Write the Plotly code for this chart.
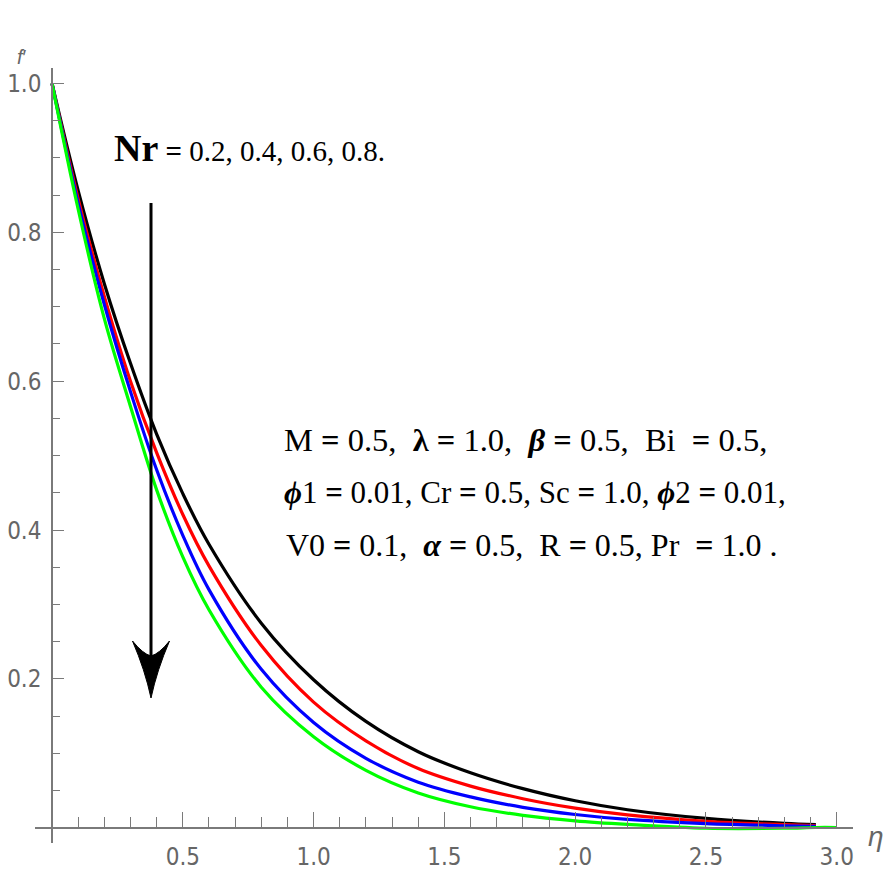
import plotly.graph_objects as go

# ---------------- data ----------------
eta = [0, 0.1, 0.2, 0.3, 0.4, 0.5, 0.6, 0.8, 1.0, 1.2, 1.4, 1.6, 1.8, 2.0, 2.2, 2.5, 2.8, 2.92, 3.0]
f_nr02 = [1.0, 0.856, 0.731, 0.624, 0.529, 0.449, 0.381, 0.275, 0.199, 0.143, 0.1023, 0.0740, 0.0527, 0.0364, 0.0244, 0.0128, 0.0060, 0.0043, None]
f_nr04 = [1.0, 0.845, 0.714, 0.600, 0.504, 0.421, 0.352, 0.245, 0.169, 0.117, 0.0797, 0.0561, 0.0392, 0.0265, 0.0174, 0.0089, 0.0043, 0.0031, None]
f_nr06 = [1.0, 0.839, 0.703, 0.586, 0.481, 0.393, 0.320, 0.213, 0.1416, 0.0935, 0.0614, 0.0416, 0.0276, 0.0180, 0.0114, 0.0058, 0.0029, 0.0021, None]
f_nr08 = [1.0, 0.831, 0.684, 0.566, 0.454, 0.364, 0.293, 0.189, 0.1225, 0.0773, 0.0469, 0.0284, 0.0169, 0.0095, 0.0047, -0.0005, -0.0005, 0.0005, 0.0005]

series_names = ["Nr = 0.2", "Nr = 0.4", "Nr = 0.6", "Nr = 0.8"]
series_colors = ["#000000", "#ff0000", "#0000ff", "#00ff00"]

x_ticks = [0.5, 1.0, 1.5, 2.0, 2.5, 3.0]
x_tick_text = ["0.5", "1.0", "1.5", "2.0", "2.5", "3.0"]
y_ticks = [0.2, 0.4, 0.6, 0.8, 1.0]
y_tick_text = ["0.2", "0.4", "0.6", "0.8", "1.0"]

# ---------------- layout constants ----------------
W, H = 889, 884
X_RANGE = [-0.065, 3.062]
Y_RANGE = [-0.0203, 1.0207]
ML, MR, MT, MB = 35, 36, 68, 41
PW, PH = W - ML - MR, H - MT - MB

def px2x(px):
    return X_RANGE[0] + (px - ML) / PW * (X_RANGE[1] - X_RANGE[0])

def py2y(py):
    return Y_RANGE[1] - (py - MT) / PH * (Y_RANGE[1] - Y_RANGE[0])

AX_COLOR = "#7a7a7a"
TICK_FONT = dict(family="Liberation Sans Narrow, DejaVu Sans Condensed, Arial Narrow, Liberation Sans, sans-serif",
                 size=24, color="#666666")
SERIF = "Liberation Serif, Times New Roman, DejaVu Serif, serif"

fig = go.Figure()
for ys, name, col in zip([f_nr02, f_nr04, f_nr06, f_nr08], series_names, series_colors):
    fig.add_trace(go.Scatter(x=eta, y=ys, mode="lines", name=name,
                             line=dict(color=col, width=3.2, shape="spline", smoothing=1.0),
                             connectgaps=False, showlegend=False, hoverinfo="skip"))

xpos = (0 - Y_RANGE[0]) / (Y_RANGE[1] - Y_RANGE[0])
ypos = (0 - X_RANGE[0]) / (X_RANGE[1] - X_RANGE[0])

fig.update_layout(
    width=W, height=H,
    margin=dict(l=ML, r=MR, t=MT, b=MB, pad=0, autoexpand=False),
    plot_bgcolor="white", paper_bgcolor="white",
    xaxis=dict(range=X_RANGE, anchor="free", position=xpos, showline=True, linecolor=AX_COLOR,
               linewidth=1.5, showgrid=False, zeroline=False, tickmode="array", automargin=False,
               tickvals=x_ticks, ticktext=x_tick_text, ticks="inside", ticklen=15,
               tickwidth=1.3, tickcolor=AX_COLOR, tickfont=TICK_FONT, ticklabelstandoff=8,
               minor=dict(ticks="inside", ticklen=10, tickwidth=1.1, tickcolor=AX_COLOR,
                          tickmode="linear", tick0=0, dtick=0.1, showgrid=False)),
    yaxis=dict(range=Y_RANGE, anchor="free", position=ypos, showline=True, linecolor=AX_COLOR,
               linewidth=1.5, showgrid=False, zeroline=False, tickmode="array", automargin=False,
               tickvals=y_ticks, ticktext=y_tick_text, ticks="inside", ticklen=11,
               tickwidth=1.3, tickcolor=AX_COLOR, tickfont=TICK_FONT, ticklabelstandoff=5,
               minor=dict(ticks="inside", ticklen=7, tickwidth=1.1, tickcolor=AX_COLOR,
                          tickmode="linear", tick0=0, dtick=0.05, showgrid=False)),
)

# ---------------- arrow ----------------
arrow_x = px2x(151)
arrow_top = py2y(203)
arrow_tip = py2y(698)
arrow_notch = py2y(698 - 42)
fig.add_shape(type="line", x0=arrow_x, x1=arrow_x, y0=arrow_top, y1=arrow_notch,
              xref="x", yref="y", line=dict(color="black", width=3))
fig.add_shape(type="path", xref="x", yref="y", xsizemode="pixel", ysizemode="pixel",
              xanchor=arrow_x, yanchor=arrow_tip,
              path="M0,0 Q-6,28 -18.5,57 Q-8,44 0,42 Q8,44 18.5,57 Q6,28 0,0 Z",
              fillcolor="black", line=dict(color="black", width=1))

# ---------------- text annotations ----------------
def ann(px, py, text, size, xanchor="left", color="black", family=SERIF):
    fig.add_annotation(x=(px - ML) / PW, y=1 - (py - MT) / PH, xref="paper", yref="paper",
                       text=text, showarrow=False, xanchor=xanchor, yanchor="middle",
                       font=dict(family=family, size=size, color=color))

nb = "\u00a0"
ann(112, 148, "<b><span style='font-size:38px'>Nr</span></b> <b>=</b>" + nb + "0.2, 0.4, 0.6, 0.8.", 29)
ann(282, 440, "M" + nb + "<b>=</b>" + nb + "0.5," + nb * 2 + "<b>λ</b>" + nb + "<b>=</b>" + nb + "1.0,"
    + nb * 2 + "<b><i>β</i></b>" + nb + "<b>=</b>" + nb + "0.5," + nb * 2 + "Bi" + nb * 2 + "<b>=</b>" + nb + "0.5,", 32.5)
ann(282, 493, "<b><i>ϕ</i></b>1" + nb + "<b>=</b>" + nb + "0.01," + nb + "Cr" + nb + "<b>=</b>" + nb + "0.5,"
    + nb + "Sc" + nb + "<b>=</b>" + nb + "1.0," + nb + "<b><i>ϕ</i></b>2" + nb + "<b>=</b>" + nb + "0.01,", 31)
ann(284, 545, "V0" + nb + "<b>=</b>" + nb + "0.1," + nb * 2 + "<b><i>α</i></b>" + nb + "<b>=</b>" + nb + "0.5,"
    + nb * 2 + "R" + nb + "<b>=</b>" + nb + "0.5," + nb + "Pr" + nb * 2 + "<b>=</b>" + nb + "1.0" + nb + ".", 32)

# axis labels
ann(22, 57, "<i>f</i>′", 20, xanchor="center", color="#666666",
    family="Liberation Sans, sans-serif")
ann(876, 836, "<i>η</i>", 28, xanchor="center", color="#666666",
    family="Liberation Sans, sans-serif")

fig.write_html("out.html", config={"displayModeBar": False},
               post_script="document.body.style.margin='0';document.body.style.padding='0';")
